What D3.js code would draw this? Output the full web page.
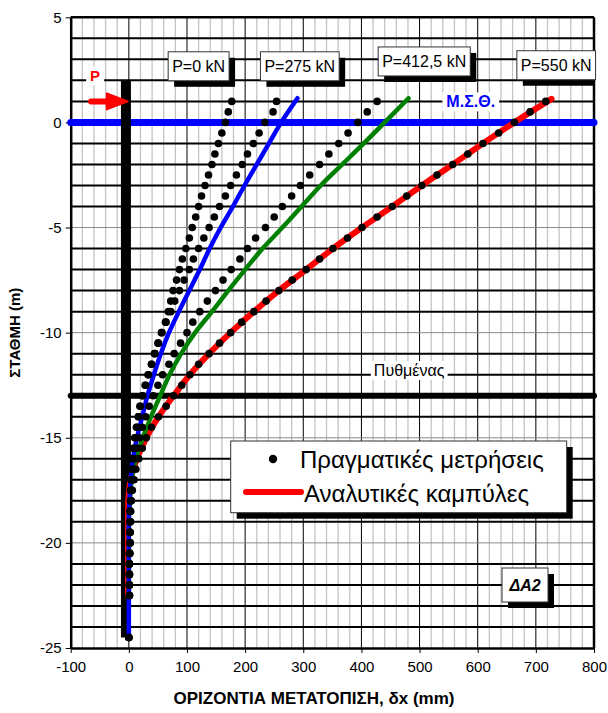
<!DOCTYPE html>
<html>
<head>
<meta charset="utf-8">
<script src="https://cdn.jsdelivr.net/npm/d3@7"></script>
<style>
  body { margin: 0; background: #fff; }
  text { font-family: "Liberation Sans", Arial, sans-serif; }
</style>
</head>
<body>
<div id="chart"></div>
<script>
// measured depths (m) for all four load steps
const depths = [1, 0.5, 0, -0.5, -1, -1.5, -2, -2.5, -3, -3.5, -4, -4.5, -5, -5.5, -6, -6.5, -7, -7.5, -8, -8.5,
  -9, -9.5, -10, -10.5, -11, -11.5, -12, -12.5, -13, -13.5, -14, -14.5, -15, -15.5, -16, -16.5, -17, -17.5,
  -18, -18.5, -19, -19.5, -20, -20.5, -21, -21.5, -22, -22.5, -24.5];

// measured displacements dx (mm)
const meas0 = [177, 171, 166, 160, 154, 148, 143, 137, 131, 125, 120, 115, 109, 104, 98, 92, 87, 82, 76, 72,
  68, 63, 56, 50, 44, 39, 33, 28, 23, 19, 16, 13, 10, 8, 6, 5, 4, 3, 3, 2, 2, 2, 2, 1, 1, 1, 1, 1, 0];
const meas275 = [254, 248, 234, 224, 214, 204, 195, 185, 175, 166, 156, 147, 138, 129, 120, 111, 104, 95, 87, 79,
  72, 64, 57, 51, 45, 39, 34, 29, 24, 20, 17, 14, 11, 8, 6, 5, 4, 3, 3, 2, 2, 2, 2, 1, 1, 1, 1, 1, 0];
const meas412 = [427, 410, 394, 377, 361, 344, 328, 311, 295, 280, 264, 250, 235, 218, 204, 191, 176, 162, 149, 135,
  122, 110, 100, 89, 78, 69, 58, 50, 42, 35, 29, 23, 18, 14, 11, 8, 6, 5, 4, 3, 3, 2, 2, 2, 1, 1, 1, 1, 0];
const meas550 = [717, 690, 663, 636, 609, 583, 557, 530, 504, 478, 453, 427, 401, 376, 351, 328, 305, 281, 258, 236,
  215, 194, 175, 156, 138, 120, 105, 91, 77, 64, 51, 39, 30, 23, 17, 12, 9, 6, 4, 3, 2, 2, 2, 1, 1, 1, 1, 1, 0];

// analytic curves
const blueDepth = [1.15, 0, -1, -2, -3, -4, -5, -6, -7, -8, -9, -10, -11, -12, -13, -14, -15, -16, -17, -18, -19, -24.3];
const blueVal = [290, 262, 241, 220, 199, 179, 158, 139, 122, 104, 86, 69, 55, 43, 32, 23, 14, 7, 3, 1, 0, 0];
const greenDepth = [1.15, 0, -1, -2, -3, -4, -5, -6, -7, -8, -9, -10, -11, -12, -13, -14, -15, -16, -17, -18, -19, -22.5];
const greenVal = [481, 440, 404, 367, 330, 297, 264, 230, 200, 171, 143, 114, 90, 70, 54, 38, 24, 12, 5, 2, 0, 0];
const redDepth = [1.12, 0, -1, -2, -3, -4, -5, -6, -7, -8, -9, -10, -11, -12, -13, -14, -15, -16, -17, -18, -19, -20, -22.5];
const redVal = [727, 663, 609, 557, 504, 453, 401, 351, 305, 258, 215, 175, 138, 105, 77, 51, 30, 14, 3, -1, -1.5, -1.5, -1.5];

const xTicks = [-100, 0, 100, 200, 300, 400, 500, 600, 700, 800];
const yTicks = [5, 0, -5, -10, -15, -20, -25];

const loadLabels = ["P=0 kN", "P=275 kN", "P=412,5 kN", "P=550 kN"];
const legendLabels = ["Πραγματικές μετρήσεις", "Αναλυτικές καμπύλες"];

const width = 608, height = 713;

const svg = d3.select("#chart").append("svg")
  .attr("width", width)
  .attr("height", height);

const x = d3.scaleLinear().domain([-100, 800]).range([70.7, 594]);
const y = d3.scaleLinear().domain([-25, 5]).range([648, 17.3]);

svg.append("defs").append("clipPath").attr("id", "plotclip")
  .append("rect")
  .attr("x", x(-100)).attr("y", y(5))
  .attr("width", x(800) - x(-100)).attr("height", y(-25) - y(5));

// grid
const grid = svg.append("g");
grid.selectAll(".vminor")
  .data(d3.range(-80, 800, 20).filter(v => v % 100 !== 0))
  .join("line")
  .attr("x1", d => x(d)).attr("x2", d => x(d))
  .attr("y1", y(5)).attr("y2", y(-25))
  .attr("stroke", "#c4c4c4").attr("stroke-width", 1.3);
grid.selectAll(".vmajor")
  .data(d3.range(0, 800, 100))
  .join("line")
  .attr("x1", d => x(d)).attr("x2", d => x(d))
  .attr("y1", y(5)).attr("y2", y(-25))
  .attr("stroke", "#000").attr("stroke-width", 1);
grid.selectAll(".h")
  .data(d3.range(-24, 5, 1))
  .join("line")
  .attr("x1", x(-100)).attr("x2", x(800))
  .attr("y1", d => y(d)).attr("y2", d => y(d))
  .attr("stroke", d => d % 5 === 0 ? "#8a8a8a" : "#000")
  .attr("stroke-width", d => d % 5 === 0 ? 1 : 2);

// axes
const xAxis = svg.append("g")
  .attr("transform", `translate(0,${y(-25)})`)
  .call(d3.axisBottom(x).tickValues(xTicks).tickSize(5).tickSizeOuter(0).tickPadding(8).tickFormat(d => String(d)));
const yAxis = svg.append("g")
  .attr("transform", `translate(${x(-100)},0)`)
  .call(d3.axisLeft(y).tickValues(yTicks).tickSize(5).tickSizeOuter(0).tickPadding(4).tickFormat(d => String(d)));
[xAxis, yAxis].forEach(a => {
  a.select(".domain").attr("stroke-width", 2.5);
  a.selectAll("text").style("font-size", "15px").attr("fill", "#000");
});
svg.append("line")
  .attr("x1", x(-100)).attr("x2", x(800)).attr("y1", y(5)).attr("y2", y(5))
  .attr("stroke", "#000").attr("stroke-width", 2.5);
svg.append("line")
  .attr("x1", x(800)).attr("x2", x(800)).attr("y1", y(5)).attr("y2", y(-25))
  .attr("stroke", "#000").attr("stroke-width", 2.5);

// axis titles
svg.append("text")
  .attr("transform", "rotate(-90)")
  .attr("x", -(y(-25) + y(5)) / 2).attr("y", 20)
  .attr("text-anchor", "middle")
  .style("font-size", "15px").style("font-weight", "bold")
  .text("ΣΤΑΘΜΗ (m)");
svg.append("text")
  .attr("x", 314).attr("y", 704)
  .attr("text-anchor", "middle")
  .style("font-size", "17px").style("font-weight", "bold")
  .text("ΟΡΙΖΟΝΤΙΑ ΜΕΤΑΤΟΠΙΣΗ, δx (mm)");

// white backgrounds behind inline labels
function bgLabel(cx, cy, txt, size, weight, color, padX) {
  const t = svg.append("text")
    .attr("x", cx).attr("y", cy).attr("dy", "0.35em")
    .attr("text-anchor", "middle")
    .style("font-size", size + "px").style("font-weight", weight)
    .attr("fill", color)
    .text(txt);
  const bb = t.node().getBBox();
  svg.insert("rect", () => t.node())
    .attr("x", bb.x - padX).attr("y", bb.y - 1)
    .attr("width", bb.width + 2 * padX).attr("height", bb.height + 2)
    .attr("fill", "#fff");
  return t;
}

// sea level and sea bed lines
svg.append("line")
  .attr("x1", x(-100)).attr("x2", x(800)).attr("y1", y(0)).attr("y2", y(0))
  .attr("stroke", "#0000ff").attr("stroke-width", 7).attr("stroke-linecap", "round");
svg.append("line")
  .attr("x1", x(-100)).attr("x2", x(800)).attr("y1", y(-13)).attr("y2", y(-13))
  .attr("stroke", "#000").attr("stroke-width", 6).attr("stroke-linecap", "round");

bgLabel(x(588), y(0.98), "Μ.Σ.Θ.", 16, "bold", "#0000ff", 4);
bgLabel(x(482), y(-11.8), "Πυθμένας", 16, "normal", "#000", 3);

// pile
svg.append("line")
  .attr("x1", x(-5)).attr("x2", x(-5)).attr("y1", y(2)).attr("y2", y(-24.5))
  .attr("stroke", "#000").attr("stroke-width", 10);

// load arrow
const ay = y(1);
svg.append("line")
  .attr("x1", x(-65)).attr("x2", x(-30)).attr("y1", ay).attr("y2", ay)
  .attr("stroke", "#ff0000").attr("stroke-width", 6).attr("stroke-linecap", "round");
svg.append("path")
  .attr("d", `M${x(-38)},${ay - 8} L${x(-2)},${ay} L${x(-38)},${ay + 8} Z`)
  .attr("fill", "#ff0000").attr("stroke", "#ff0000").attr("stroke-width", 2).attr("stroke-linejoin", "round");
bgLabel(x(-58), y(2.2), "P", 15, "bold", "#ff0000", 4);

// analytic curves
const line = d3.line().x(d => x(d[0])).y(d => y(d[1])).curve(d3.curveMonotoneY);
const curves = [
  { v: redVal, d: redDepth, color: "#ff0000", w: 6 },
  { v: greenVal, d: greenDepth, color: "#008000", w: 4.5 },
  { v: blueVal, d: blueDepth, color: "#0000ff", w: 4.5 }
];
svg.append("g").attr("clip-path", "url(#plotclip)")
  .selectAll("path")
  .data(curves)
  .join("path")
  .attr("d", c => line(c.v.map((v, i) => [v, c.d[i]])))
  .attr("fill", "none")
  .attr("stroke", c => c.color)
  .attr("stroke-width", c => c.w)
  .attr("stroke-linecap", "round");

// measured points
const measured = [meas0, meas275, meas412, meas550];
svg.append("g")
  .selectAll("g")
  .data(measured)
  .join("g")
  .selectAll("circle")
  .data(s => s.map((v, i) => [v, depths[i]]))
  .join("circle")
  .attr("cx", d => x(d[0]))
  .attr("cy", d => y(d[1]))
  .attr("r", 3.8)
  .attr("fill", "#000");

// boxes with shadow
function shadowBox(x0, y0, w, h) {
  svg.append("rect")
    .attr("x", x0 + 6).attr("y", y0 + 6).attr("width", w).attr("height", h)
    .attr("fill", "#000").attr("clip-path", "url(#plotclip)");
  svg.append("rect")
    .attr("x", x0).attr("y", y0).attr("width", w).attr("height", h)
    .attr("fill", "#fff").attr("stroke", "#333").attr("stroke-width", 1);
}

// load labels
const labelPos = [[120, 2.67], [294, 2.67], [508, 2.9], [735, 2.72]];
loadLabels.forEach((txt, i) => {
  const cx = x(labelPos[i][0]), cy = y(labelPos[i][1]);
  const t = svg.append("text")
    .attr("x", cx).attr("y", cy).attr("dy", "0.35em")
    .attr("text-anchor", "middle")
    .style("font-size", "16px")
    .text(txt);
  const bb = t.node().getBBox();
  t.remove();
  shadowBox(bb.x - 4, cy - 14.5, bb.width + 8, 29);
  svg.append("text")
    .attr("x", cx).attr("y", cy).attr("dy", "0.35em")
    .attr("text-anchor", "middle")
    .style("font-size", "16px")
    .text(txt);
});

// legend
shadowBox(230.7, 441, 336, 71.7);
svg.append("circle").attr("cx", 273).attr("cy", 459).attr("r", 4.2).attr("fill", "#000");
svg.append("line")
  .attr("x1", 246).attr("x2", 301).attr("y1", 492).attr("y2", 492)
  .attr("stroke", "#ff0000").attr("stroke-width", 6).attr("stroke-linecap", "round");
svg.append("text").attr("x", 300).attr("y", 468)
  .style("font-size", "24px").text(legendLabels[0]);
svg.append("text").attr("x", 304).attr("y", 502)
  .style("font-size", "24px").text(legendLabels[1]);

// pile id
shadowBox(502, 568, 46, 34);
svg.append("text").attr("x", 525).attr("y", 585).attr("dy", "0.35em")
  .attr("text-anchor", "middle")
  .style("font-size", "16px").style("font-weight", "bold").style("font-style", "italic")
  .text("ΔΑ2");
</script>
</body>
</html>
